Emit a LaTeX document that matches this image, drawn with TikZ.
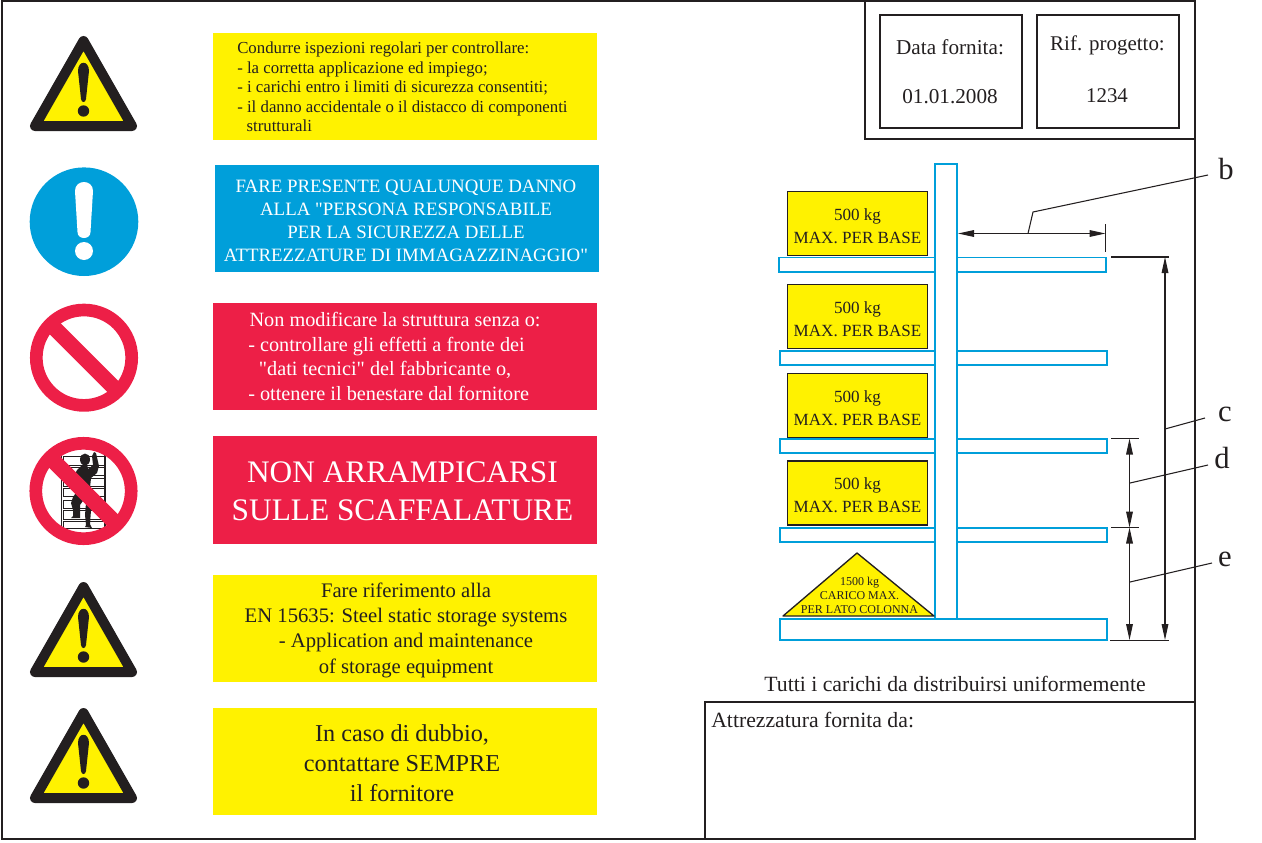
\documentclass[tikz,border=0pt]{standalone}
\usepackage{fontspec}
\setmainfont[Ligatures=TeXOff]{Liberation Serif}
\usetikzlibrary{arrows.meta}
\definecolor{inkblack}{HTML}{231F20}
\definecolor{signyellow}{HTML}{FFF200}
\definecolor{signblue}{HTML}{009FDA}
\definecolor{signred}{HTML}{ED1F47}
\newcommand{\fs}[1]{\fontsize{#1}{18}\selectfont}
\tikzset{
	panel/.style = {minimum width=288pt, minimum height=80pt, inner sep=0pt},
	yellowpanel/.style = {panel, fill=signyellow},
	bluepanel/.style = {panel, fill=signblue},
	redpanel/.style = {panel, fill=signred},
	paneltext/.style = {inner sep=0pt, align=center, text=inkblack},
	frameline/.style = {draw=inkblack, line width=1.5pt},
	loadbox/.style = {draw=inkblack, line width=1.3pt, fill=signyellow, minimum width=105pt, minimum height=48pt, inner sep=0pt, align=center, text=inkblack, font=\fontsize{12.8}{17.2}\selectfont},
	rack/.style = {draw=signblue, line width=1.3pt, fill=white},
	dimline/.style = {draw=inkblack, line width=0.8pt},
	dimarrow/.style = {dimline, {Triangle[length=12pt,width=5pt]}-{Triangle[length=12pt,width=5pt]}},
	letter/.style = {inner sep=0pt, text=inkblack, font=\fontsize{23}{23}\selectfont},
	warnsign/.pic = {
		\draw[draw=inkblack, fill=signyellow, line width=7.5pt, line join=round] (35,126) -- (83.5,41) -- (132,126) -- cycle;
		\fill[inkblack] (78,71) .. controls (78,60) and (89,60) .. (89,71) -- (86,99) .. controls (85.5,103) and (81.5,103) .. (81,99) -- cycle;
		\fill[inkblack] (83.5,111) circle (5.7);
	},
	nosign/.pic = {
		\draw[signred, line width=9.5pt] (0,0) circle (47.7);
		\draw[signred, line width=11.7pt] (-34,-34) -- (34,34);
	}
}
\begin{document}
\begin{tikzpicture}[x=0.75pt, y=-0.75pt]
	\useasboundingbox (0,0) rectangle (1262,842);

	% frames
	\draw[frameline] (2,1) rectangle (1195,839);
	\draw[frameline] (865,1) -- (865,139) -- (1195,139);
	\node[frameline, minimum width=106.5pt, minimum height=85pt] (datebox) at (951,71.5) {};
	\node[frameline, minimum width=106.5pt, minimum height=85pt] (refbox) at (1108,71.5) {};
	\node[frameline, minimum width=367.5pt, minimum height=103pt] (supplier) at (950,770.5) {};

	\node[font=\fs{15.9}, text=inkblack] (datelabel) at (950,47) {Data fornita:};
	\node[font=\fs{15.9}, text=inkblack] (datevalue) at (950,97) {01.01.2008};
	\node[font=\fs{15.7}, text=inkblack] (reflabel) at (1107.5,45) {Rif. progetto:};
	\node[font=\fs{15.7}, text=inkblack] (refvalue) at (1107,96) {1234};
	\node[font=\fs{16.3}, text=inkblack, anchor=west, inner sep=0pt] (supplierlabel) at (711,720) {Attrezzatura fornita da:};
	\node[font=\fs{16.3}, text=inkblack] (uniform) at (955,684) {Tutti i carichi da distribuirsi uniformemente};

	% panels
	\node[yellowpanel] (panel1) at (405,86.5) {};
	\node[font=\fontsize{12.6}{14.7}\selectfont, text=inkblack, align=left, anchor=north west, inner sep=0pt] (text1) at (237,41.5) {Condurre ispezioni regolari per controllare:\\- la corretta applicazione ed impiego;\\- i carichi entro i limiti di sicurezza consentiti;\\- il danno accidentale o il distacco di componenti\\\hspace*{7pt}strutturali};
	\node[bluepanel] (panel2) at (406.5,218.5) {};
	\node[paneltext, text=white, font=\fontsize{14.15}{17.2}\selectfont] (text2) at (406,220.5) {FARE PRESENTE QUALUNQUE DANNO\\ALLA "PERSONA RESPONSABILE\\PER LA SICUREZZA DELLE\\ATTREZZATURE DI IMMAGAZZINAGGIO"};
	\node[redpanel] (panel3) at (405,356.5) {};
	\node[font=\fontsize{15.2}{18.5}\selectfont, text=white, align=left, anchor=north west, inner sep=0pt] (text3) at (248,312) {\hspace*{1pt}Non modificare la struttura senza o:\\- controllare gli effetti a fronte dei\\\hspace*{8pt}"dati tecnici" del fabbricante o,\\- ottenere il benestare dal fornitore};
	\node[redpanel, minimum height=81pt] (panel4) at (405,490) {};
	\node[paneltext, text=white, font=\fontsize{23.5}{28.5}\selectfont] (text4) at (402.5,491.5) {NON ARRAMPICARSI\\SULLE SCAFFALATURE};
	\node[yellowpanel] (panel5) at (405,628.5) {};
	\node[paneltext, font=\fontsize{15.5}{19}\selectfont] (text5) at (406,630) {Fare riferimento alla\\EN 15635: Steel static storage systems\\- Application and maintenance\\of storage equipment};
	\node[yellowpanel] (panel6) at (405,761.5) {};
	\node[paneltext, font=\fontsize{18.2}{22.5}\selectfont] (text6) at (402,763.5) {In caso di dubbio,\\contattare SEMPRE\\il fornitore};

	% signs
	\pic at (0,0) {warnsign};
	\pic at (0,546) {warnsign};
	\pic at (0,672) {warnsign};

	\fill[signblue] (84,221.7) circle (54.3);
	\fill[white] (75,191) .. controls (75,179) and (93,179) .. (93,191) -- (90.5,232) .. controls (90.5,240) and (77.5,240) .. (77.5,232) -- cycle;
	\fill[white] (84,251) circle (9);

	\pic at (84,357.7) {nosign};

	% ladder and climber
	\draw[inkblack, line width=0.8pt] (61.5,453) -- (61.5,530) (105,453) -- (105,530);
	\foreach \ytop/\ybot in {456.7/465, 467.7/475.7, 478.3/486.7, 488.3/496.7, 500/508.3, 510.7/519, 521/528}
		\draw[inkblack, line width=0.7pt] (63.5,\ytop) rectangle (104,\ybot);
	\fill[inkblack] (85,459.5) ellipse (5 and 6);
	\fill[inkblack] (83,464) -- (77,470) -- (74,476) -- (66,484) -- (68,487) -- (76,482) -- (78,490) -- (73,497) -- (71,503) -- (73,510) -- (73,516) -- (71,518) -- (80,518) -- (80,505) -- (85,498) -- (86,503) -- (85,515) -- (86,525) -- (85,527) -- (92,528) -- (90,524) -- (91,510) -- (92,498) -- (90,488) -- (91,478) -- (97,473) -- (99,466) -- (96,453) -- (94,452) -- (92,456) -- (93,465) -- (88,469) -- (87,464) -- cycle;
	\pic at (83.5,491) {nosign};

	% rack
	\draw[rack] (779,257.5) rectangle (1106,272);
	\foreach \ytop/\ybot in {351/365, 439/453, 528/542}
		\draw[rack] (780,\ytop) rectangle (1107,\ybot);
	\draw[rack] (935,164) rectangle (957,619);
	\draw[rack] (780,619) rectangle (1107,640);

	\foreach \name/\ypos in {loada/223.5, loadb/316.5, loadc/405.5, loadd/493}
		\node[loadbox] (\name) at (857.5,\ypos) {\rule{0pt}{12.5pt}500 kg\\MAX. PER BASE};

	\draw[inkblack, line width=1pt, line join=round, fill=signyellow] (783,616) -- (857,553) -- (934,616) -- cycle;
	\node[inner sep=0pt, align=center, text=inkblack, font=\fontsize{9}{10.5}\selectfont] (loadtri) at (859.5,595) {1500 kg\\CARICO MAX.\\PER LATO COLONNA};

	% dimensions
	\coordinate (bleft) at (958,233.5);
	\coordinate (bright) at (1105.5,233.5);
	\coordinate (bknee1) at (1028,233.5);
	\coordinate (bknee2) at (1033,212);
	\node[letter] (lb) at (1226,169) {b};
	\draw[dimarrow] (bleft) -- (bright);
	\draw[dimline] (1105.5,224) -- (1105.5,252);
	\draw[dimline] (bknee1) -- (bknee2) -- (1208,175);

	\coordinate (ctop) at (1165,257);
	\coordinate (cbot) at (1165,640);
	\coordinate (cmid) at (1165,429);
	\node[letter] (lc) at (1225,414) {c};
	\draw[dimline] (1111,257) -- (1169,257);
	\draw[dimline] (1110,640.5) -- (1169,640.5);
	\draw[dimarrow] (ctop) -- (cbot);
	\draw[dimline] (cmid) -- (1205,418);

	\coordinate (dtop) at (1129.5,438.5);
	\coordinate (dbot) at (1129.5,527.5);
	\coordinate (dmid) at (1130,483);
	\node[letter] (ld) at (1222,458) {d};
	\draw[dimline] (1111,438.5) -- (1139,438.5);
	\draw[dimline] (1111,527.5) -- (1139,527.5);
	\draw[dimarrow] (dtop) -- (dbot);
	\draw[dimline] (dmid) -- (1208,465);

	\coordinate (etop) at (1129.5,527.5);
	\coordinate (ebot) at (1129.5,640);
	\coordinate (emid) at (1130,582);
	\node[letter] (le) at (1225,559) {e};
	\draw[dimarrow] (etop) -- (ebot);
	\draw[dimline] (emid) -- (1212,563);
\end{tikzpicture}
\end{document}
